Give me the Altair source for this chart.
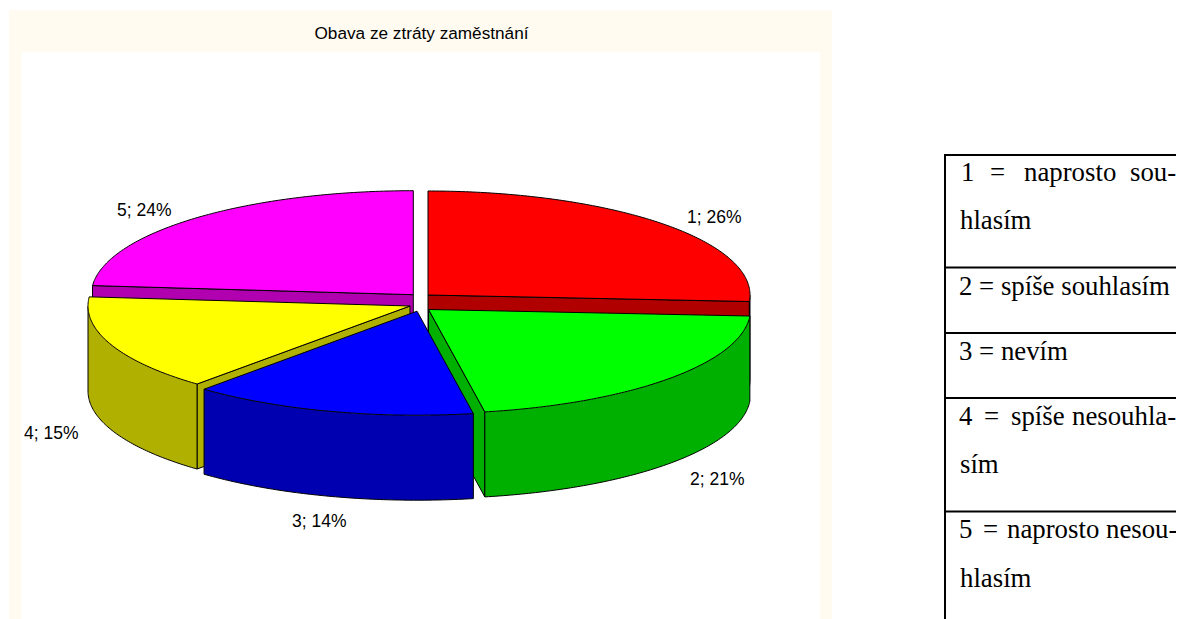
import numpy as np
import pandas as pd
import altair as alt

# ---- values
categories = ["1", "2", "3", "4", "5"]
shares = [26.0, 21.2, 14.3, 14.9, 23.6]
labels = ["1; 26%", "2; 21%", "3; 14%", "4; 15%", "5; 24%"]
label_x = [687, 690, 292, 24, 117]
label_y = [223, 485, 527, 439, 216]
top_colors = ["#FF0000", "#00FF00", "#0000FF", "#FFFF00", "#FF00FF"]
side_colors = ["#B00000", "#00B000", "#0000B0", "#B0B000", "#B000B0"]
centre_x = [428.0, 428.5, 417.0, 410.0, 413.3]
centre_y = [295.0, 309.5, 311.2, 306.0, 294.7]
paint_order = [4, 0, 3, 1, 2]

title_text = "Obava ze ztráty zaměstnání"
table_words = ["1", "=", "naprosto", "sou-", "hlasím",
               "2 = spíše souhlasím", "3 = nevím",
               "4", "=", "spíše", "nesouhla-", "sím",
               "5", "=", "naprosto", "nesou-", "hlasím"]
table_x = [961, 990, 1024, 1130, 960, 959, 959, 959, 984, 1011, 1072, 960,
           959, 983, 1007, 1106, 960]
table_y = [181, 181, 181, 181, 229, 295, 360, 425, 425, 425, 425, 473,
           538, 538, 538, 538, 587]
table_rules = [155, 267.5, 333, 398, 511.5]

A, B, DEPTH = 322.0, 104.0, 85.0

x_scale = alt.Scale(domain=[8, 1176], nice=False, zero=False)
y_scale = alt.Scale(domain=[619, 8], nice=False, zero=False)
X = alt.X("x:Q", scale=x_scale, axis=None)
Y = alt.Y("y:Q", scale=y_scale, axis=None)
Y2 = alt.Y2("y2:Q")


def arc(cx, cy, a0, a1):
    th = np.radians(np.linspace(a0, a1, max(int(abs(a1 - a0) * 1.5), 2) + 1))
    return np.c_[cx + A * np.sin(th), cy - B * np.cos(th)]


def filled(pts, color):
    """Convex outline -> area mark, one vertical span per x."""
    pts = np.asarray(pts)
    closed = np.vstack([pts, pts[:1]])
    xs = np.unique(np.round(pts[:, 0], 2))
    rows = []
    for x in xs:
        ys = []
        for (x0, y0), (x1, y1) in zip(closed[:-1], closed[1:]):
            lo, hi = min(x0, x1), max(x0, x1)
            if lo - 0.006 <= x <= hi + 0.006:
                if abs(x1 - x0) < 1e-6:
                    ys += [y0, y1]
                else:
                    t = min(max((x - x0) / (x1 - x0), 0), 1)
                    ys.append(y0 + t * (y1 - y0))
        rows.append({"x": float(x), "y": float(min(ys)), "y2": float(max(ys))})
    return alt.Chart(pd.DataFrame(rows)).mark_area(
        color=color, interpolate="linear", opacity=1
    ).encode(x=X, y=Y, y2=Y2)


def outline(pts, width=1.0):
    df = pd.DataFrame(np.asarray(pts), columns=["x", "y"])
    df["i"] = range(len(df))
    return alt.Chart(df).mark_line(color="black", strokeWidth=width, interpolate="linear").encode(
        x=X, y=Y, order="i:Q"
    )


def closed(pts):
    pts = np.asarray(pts)
    return np.vstack([pts, pts[:1]])


layers = []

# panel backgrounds
def rect(x0, x1, y0, y1, color):
    return alt.Chart(pd.DataFrame({"x": [x0], "x2": [x1], "y": [y0], "y2": [y1]})).mark_rect(
        color=color
    ).encode(x=X, x2="x2:Q", y=Y, y2=Y2)

layers.append(rect(9, 832, 10, 619, "#FFFBF0"))
layers.append(rect(21.5, 820, 52, 619, "#FFFFFF"))

# slices, back to front
edges = np.cumsum([0] + shares) / sum(shares) * 360
for i in paint_order:
    cx, cy, a0, a1 = centre_x[i], centre_y[i], edges[i], edges[i + 1]
    apex = np.array([cx, cy])
    down = np.array([0, DEPTH])
    top_arc = arc(cx, cy, a0, a1)
    # visible cut faces: the outward normal of the edge has to point downwards
    for edge_angle, point, outward_sign in ((a0, top_arc[0], -1), (a1, top_arc[-1], 1)):
        th = np.radians(edge_angle)
        normal_y = outward_sign * np.sin(th)
        if normal_y > 0:
            face = [apex, point, point + down, apex + down]
            layers.append(filled(face, side_colors[i]))
            layers.append(outline(closed(face)))
    # outer wall: only the front half of the ellipse
    w0, w1 = max(a0, 90), min(a1, 270)
    if w1 > w0:
        w = arc(cx, cy, w0, w1)
        wall = alt.Chart(pd.DataFrame({"x": w[:, 0], "y": w[:, 1], "y2": w[:, 1] + DEPTH})).mark_area(
            color=side_colors[i], interpolate="linear", opacity=1
        ).encode(x=X, y=Y, y2=Y2)
        layers.append(wall)
        layers.append(outline(np.vstack([w[:1], w + down, w[-1:]])))
    # top face
    sector = np.vstack([apex, top_arc])
    layers.append(filled(sector, top_colors[i]))
    layers.append(outline(closed(sector)))

# slice labels
lab = pd.DataFrame({"x": label_x, "y": label_y, "t": labels})
layers.append(alt.Chart(lab).mark_text(
    font="Liberation Sans", fontSize=17.5, align="left", baseline="alphabetic", color="black"
).encode(x=X, y=Y, text="t:N"))

# chart title
layers.append(alt.Chart(pd.DataFrame({"x": [421.5], "y": [39], "t": [title_text]})).mark_text(
    font="Liberation Sans", fontSize=17.2, align="center", baseline="alphabetic", color="black"
).encode(x=X, y=Y, text="t:N"))

# table
rules = pd.DataFrame({"y": table_rules, "x": [945] * 5, "x2": [1176] * 5})
layers.append(alt.Chart(rules).mark_rule(color="black", strokeWidth=2).encode(x=X, x2="x2:Q", y=Y))
layers.append(alt.Chart(pd.DataFrame({"x": [945], "y": [154], "y2": [619]})).mark_rule(
    color="black", strokeWidth=2
).encode(x=X, y=Y, y2=Y2))
tb = pd.DataFrame({"x": table_x, "y": table_y, "t": table_words})
layers.append(alt.Chart(tb).mark_text(
    font="Liberation Serif", fontSize=26.8, align="left", baseline="alphabetic", color="black"
).encode(x=X, y=Y, text="t:N"))

chart = alt.layer(*layers).properties(
    width=1168, height=611, padding=0, background="white",
    autosize=alt.AutoSizeParams(type="none"),
).configure_view(stroke=None)

chart.save("out.html", embed_options={"renderer": "svg", "actions": False})
